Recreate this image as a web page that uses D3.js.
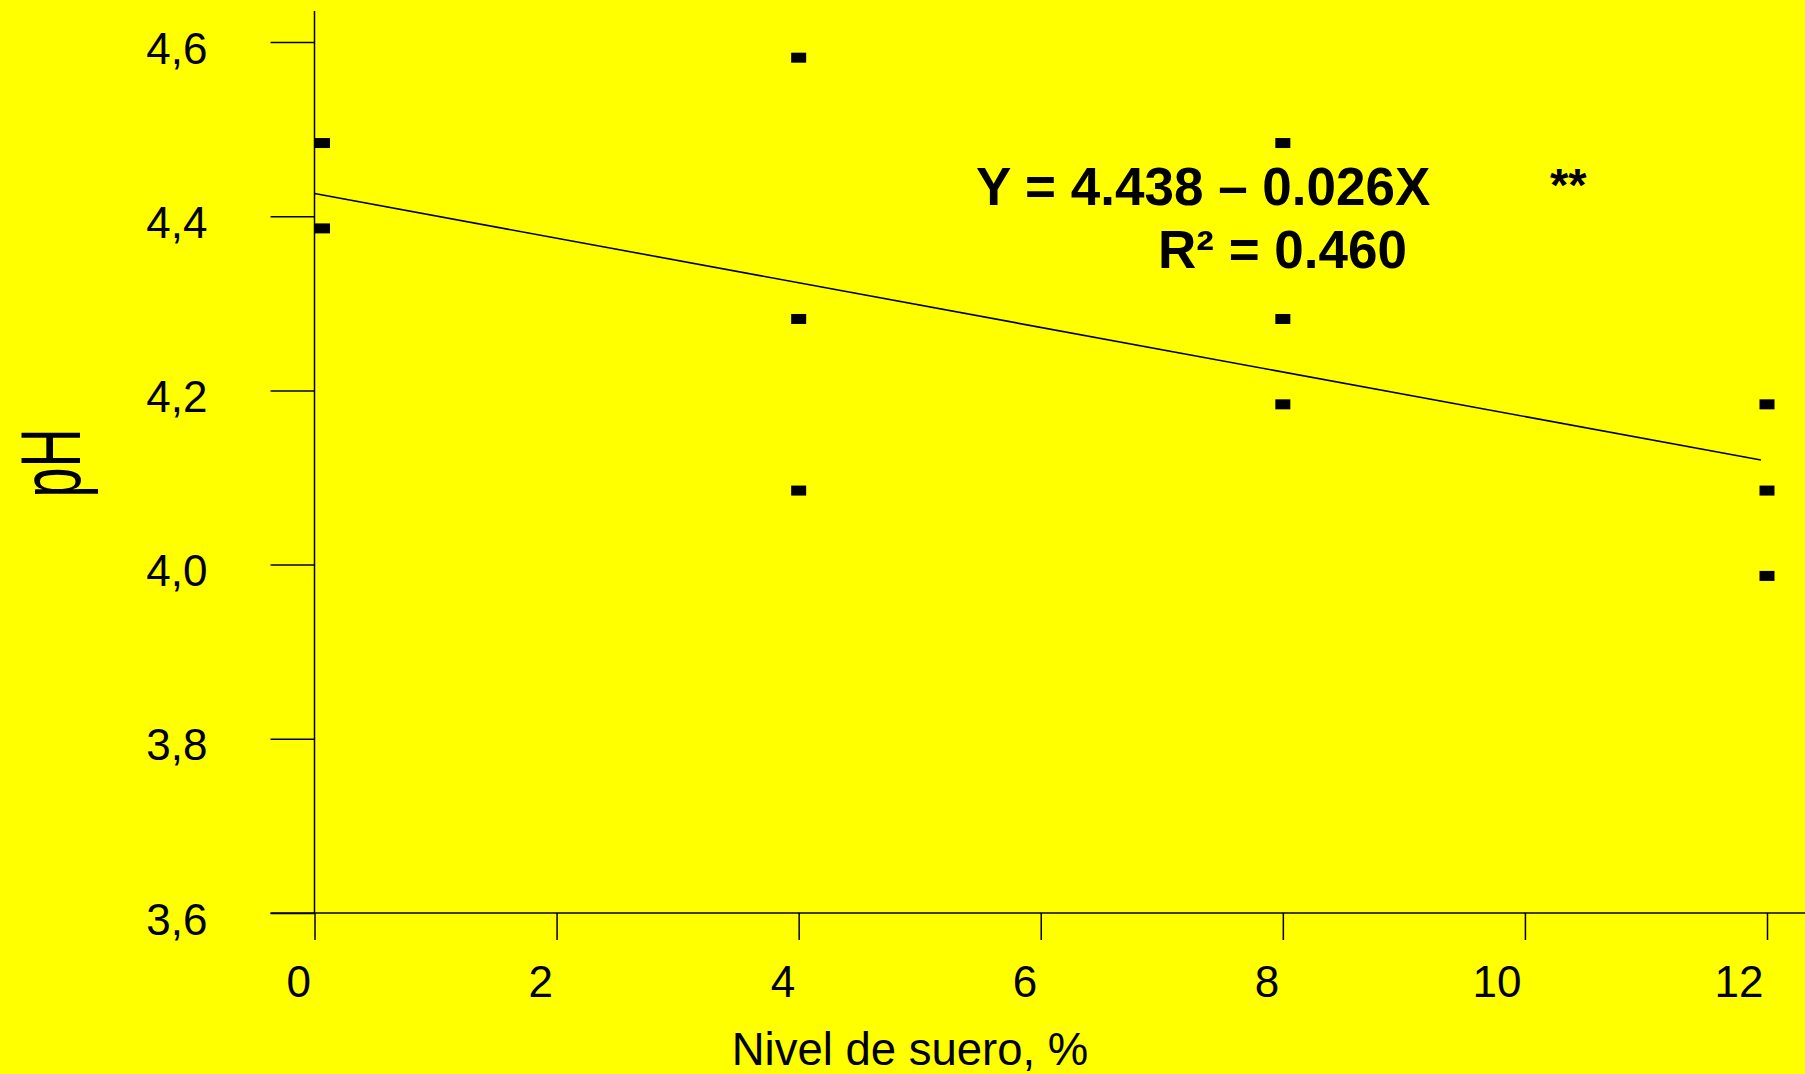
<!DOCTYPE html>
<html>
<head>
<meta charset="utf-8">
<script src="https://cdn.jsdelivr.net/npm/d3@7"></script>
<style>
  html, body { margin: 0; padding: 0; background: #ffff00; }
  svg { display: block; }
</style>
</head>
<body>
<div id="chart"></div>
<script>
// serum level (%) vs pH
const levels = [0.066, 0.066, 4, 4, 4, 8, 8, 8, 12, 12, 12];
const phValues = [4.484, 4.386, 4.582, 4.282, 4.085, 4.484, 4.282, 4.184, 4.184, 4.085, 3.987];

// fitted line as drawn
const fitX = [0, 11.95];
const fitY = [4.426, 4.12];

const xTicks = [0, 2, 4, 6, 8, 10, 12];
const yTicks = [3.6, 3.8, 4.0, 4.2, 4.4, 4.6];

const width = 1805, height = 1074;

const svg = d3.select('#chart')
  .append('svg')
  .attr('width', width)
  .attr('height', height)
  .style('background', '#ffff00');

const x = d3.scaleLinear().domain([0, 12]).range([314.5, 1767]);
const y = d3.scaleLinear().domain([3.6, 4.6]).range([913, 42]);

const font = '"Liberation Sans", Arial, sans-serif';

// y axis
const yAxis = svg.append('g')
  .attr('transform', `translate(${x(0)},0)`)
  .call(d3.axisLeft(y).tickValues(yTicks).tickSize(44).tickPadding(63)
    .tickFormat(d => d3.format('.1f')(d).replace('.', ',')));
yAxis.select('.domain').remove();
yAxis.selectAll('line').attr('stroke', '#000').attr('stroke-width', 1.5);
yAxis.selectAll('text')
  .attr('font-family', font)
  .attr('font-size', 44)
  .attr('fill', '#000')
  .attr('dy', null)
  .attr('y', 21);

// x axis
const xAxis = svg.append('g')
  .attr('transform', `translate(0,${y(3.6)})`)
  .call(d3.axisBottom(x).tickValues(xTicks).tickSize(27).tickFormat(d3.format('d')));
xAxis.select('.domain').remove();
xAxis.selectAll('line').attr('stroke', '#000').attr('stroke-width', 1.5);
xAxis.selectAll('text')
  .attr('font-family', font)
  .attr('font-size', 44)
  .attr('fill', '#000')
  .attr('text-anchor', 'end')
  .attr('dy', null)
  .attr('x', -4)
  .attr('y', 84);

// axis lines
svg.append('line')
  .attr('x1', x(0)).attr('x2', x(0))
  .attr('y1', 11).attr('y2', y(3.6))
  .attr('stroke', '#000').attr('stroke-width', 1.5);
svg.append('line')
  .attr('x1', x(0) - 44).attr('x2', width)
  .attr('y1', y(3.6)).attr('y2', y(3.6))
  .attr('stroke', '#000').attr('stroke-width', 1.5);

// regression line
svg.append('path')
  .datum(d3.zip(fitX, fitY))
  .attr('d', d3.line().x(d => x(d[0])).y(d => y(d[1])))
  .attr('fill', 'none')
  .attr('stroke', '#000')
  .attr('stroke-width', 1.6);

// points
svg.append('g')
  .selectAll('rect')
  .data(d3.zip(levels, phValues))
  .join('rect')
    .attr('x', d => x(d[0]) - 7.5)
    .attr('y', d => y(d[1]) - 5)
    .attr('width', 15)
    .attr('height', 10)
    .attr('fill', '#000');

// equation
svg.append('text')
  .attr('x', 976).attr('y', 205)
  .attr('font-family', font).attr('font-weight', 'bold').attr('font-size', 53)
  .text('Y = 4.438 \u2013 0.026X');
svg.append('text')
  .attr('x', 1550).attr('y', 201)
  .attr('font-family', font).attr('font-weight', 'bold').attr('font-size', 47)
  .text('**');
svg.append('text')
  .attr('x', 1158).attr('y', 268)
  .attr('font-family', font).attr('font-weight', 'bold').attr('font-size', 53)
  .text('R\u00b2 = 0.460');

// axis titles
svg.append('text')
  .attr('x', 910).attr('y', 1065)
  .attr('text-anchor', 'middle')
  .attr('font-family', font).attr('font-size', 45.5)
  .text('Nivel de suero, %');

svg.append('text')
  .attr('transform', 'translate(80,463) rotate(-90) scale(0.63,1)')
  .attr('text-anchor', 'middle')
  .attr('font-family', font).attr('font-size', 86)
  .text('pH');
</script>
</body>
</html>
